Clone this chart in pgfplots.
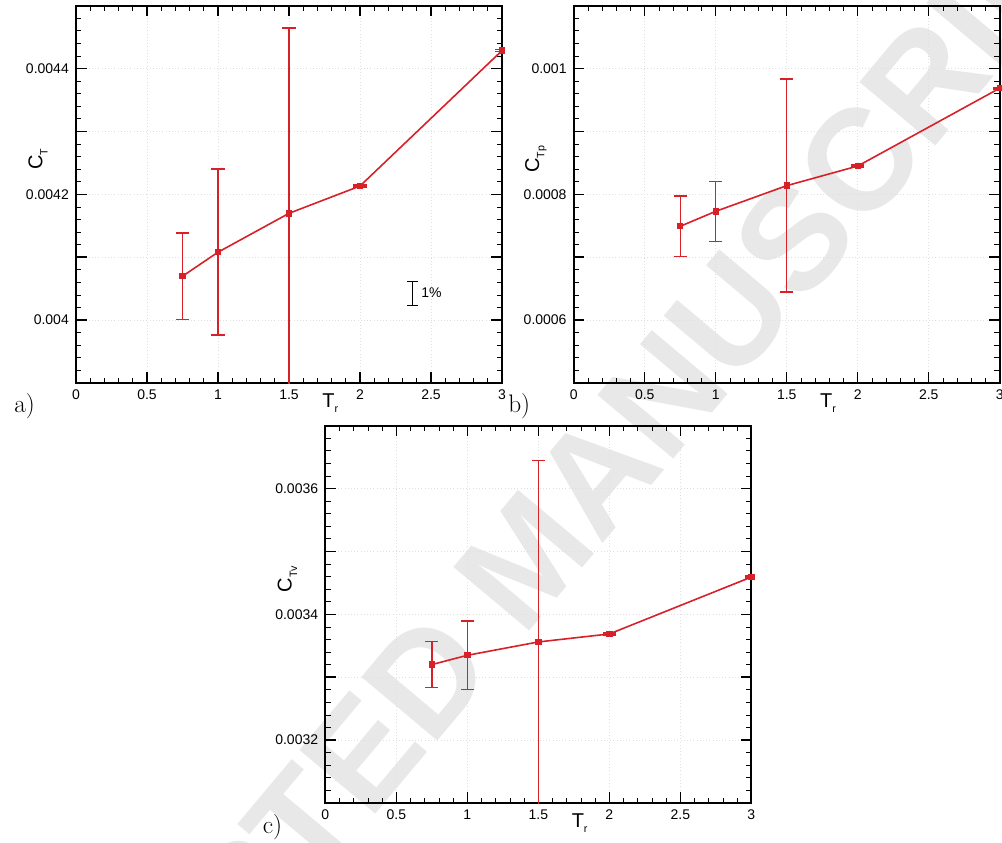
\documentclass[border=0pt]{standalone}
\usepackage{fontspec}
\setsansfont{Liberation Sans}
\newfontfamily\wmfont{Liberation Sans}
\usepackage{pgfplots}
\pgfplotsset{compat=1.18}
\definecolor{myred}{RGB}{216,32,40}
\newcommand\sub[1]{\raisebox{-4pt}{\fontsize{8}{8}\selectfont #1}}
\newcommand\lab{\sffamily\fontsize{15}{17}\selectfont}
\newcommand\tl{\sffamily\fontsize{10.5}{12}\selectfont}
\newcommand\pl{\rmfamily\fontsize{19}{22}\selectfont}

\pgfplotsset{
  panel/.style={
    scale only axis, width=319.5pt, height=283pt, anchor=south west,
    xmin=0, xmax=3,
    xtick={0,0.5,1,1.5,2,2.5,3},
    xticklabels={0,0.5,1,1.5,2,2.5,3},
    minor x tick num=4, minor y tick num=4,
    scaled y ticks=false, scaled x ticks=false,
    tick align=inside,
    major tick length=8pt, minor tick length=4pt,
    every major tick/.append style={line width=1.1pt, black},
    every minor tick/.append style={line width=0.6pt, black},
    axis line style={line width=1.3pt, black},
    ticklabel style={font=\tl, inner sep=0pt},
    xticklabel style={yshift=-4.7pt},
    yticklabel style={xshift=-5.2pt},
    grid=major, major grid style={gray!25, dotted, line width=0.4pt},
    xlabel style={at={(axis description cs:0.597,0)}, anchor=north, yshift=-7.5pt, inner sep=0pt, font=\lab},
    ylabel style={at={(axis description cs:-0.089,0.593)}, anchor=center, inner sep=0pt, font=\lab},
    xlabel={T\sub{r}},
    clip=true,
  },
  dat/.style={color=myred, draw=myred, line width=1.2pt, mark=square*, mark size=1.8pt,
    mark options={solid, draw=myred, fill=myred},
    error bars/.cd, y dir=both, y explicit,
    error bar style={line width=1.1pt, draw=myred, color=myred, solid},
    error mark options={rotate=90, mark size=4.9pt, line width=1.1pt, draw=myred, color=myred, solid}},
}

\begin{document}
\begin{tikzpicture}
\useasboundingbox (0,0) rectangle (751.5pt,-631.5pt);
\begin{scope}
\clip (0,0) rectangle (751.5pt,-631.5pt);
\node[rotate=50, font=\wmfont\bfseries\fontsize{108}{108}\selectfont, text=black!9, inner sep=0pt]
  at (395.25pt,-417.75pt) {ACCEPTED MANUSCRIPT};
\end{scope}

% panel a
\begin{axis}[panel, at={(57pt,-287.25pt)},
  ymin=0.0039, ymax=0.0045,
  ytick={0.0039,0.004,0.0041,0.0042,0.0043,0.0044,0.0045},
  yticklabels={,0.004,,0.0042,,0.0044,},
  ylabel={C\sub{T}}]
\addplot[dat] coordinates {
 (0.75,0.0040698) +- (0,0.0000685)
 (1,0.004108) +- (0,0.000132)
 (1.5,0.0041698) +- (0,0.000295)
 (2,0.0042132) +- (0,0.0000015)
 (3,0.0044286) +- (0,0.0000015)
};
\addplot[black, line width=0.8pt, mark=none, forget plot,
  error bars/.cd, y dir=both, y explicit,
  error bar style={line width=0.8pt, black},
  error mark options={rotate=90, mark size=4.2pt, line width=0.8pt, black}]
  coordinates {(2.371,0.0040422) +- (0,0.0000188)};
\node[anchor=west, inner sep=0pt, font=\tl] at (axis cs:2.43,0.004044) {1\%};
\end{axis}

% panel b
\begin{axis}[panel, at={(430.3pt,-287.25pt)},
  ymin=0.0005, ymax=0.0011,
  ytick={0.0005,0.0006,0.0007,0.0008,0.0009,0.001,0.0011},
  yticklabels={,0.0006,,0.0008,,0.001,},
  ylabel={C\sub{Tp}}]
\addplot[dat] coordinates {
 (0.75,0.0007492) +- (0,0.0000482)
 (1,0.000773) +- (0,0.0000476)
 (1.5,0.0008138) +- (0,0.0001693)
 (2,0.000845) +- (0,0.0000015)
 (3,0.0009688) +- (0,0.0000015)
};
\end{axis}

% panel c
\begin{axis}[panel, at={(244pt,-602.25pt)},
  ymin=0.0031, ymax=0.0037,
  ytick={0.0031,0.0032,0.0033,0.0034,0.0035,0.0036,0.0037},
  yticklabels={,0.0032,,0.0034,,0.0036,},
  ylabel={C\sub{Tv}}]
\addplot[dat] coordinates {
 (0.75,0.0033201) +- (0,0.0000368)
 (1,0.0033349) +- (0,0.0000542)
 (1.5,0.0033561) +- (0,0.0002883)
 (2,0.0033688) +- (0,0.0000015)
 (3,0.0034593) +- (0,0.0000015)
};
\end{axis}

\node[anchor=base west, inner sep=0pt, font=\pl] at (10.5pt,-309pt) {a)};
\node[anchor=base west, inner sep=0pt, font=\pl] at (381pt,-309pt) {b)};
\node[anchor=base west, inner sep=0pt, font=\pl] at (197pt,-625pt) {c)};
\end{tikzpicture}
\end{document}
